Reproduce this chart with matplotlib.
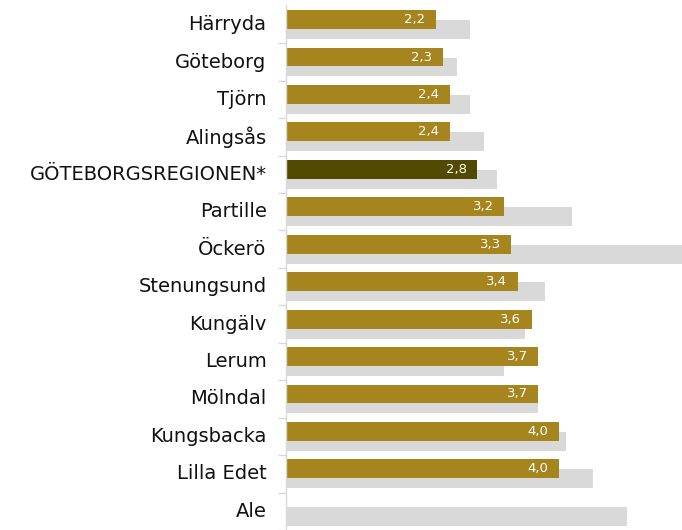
import numpy as np
import matplotlib.pyplot as plt

# Colours
GOLD = "#a6841e"
DARK_GOLD = "#524a00"
GREY = "#d9d9d9"
INK = "#111111"

municipalities = ["Härryda", "Göteborg", "Tjörn", "Alingsås", "GÖTEBORGSREGIONEN*",
                  "Partille", "Öckerö", "Stenungsund", "Kungälv", "Lerum", "Mölndal",
                  "Kungsbacka", "Lilla Edet", "Ale"]
current = [2.2, 2.3, 2.4, 2.4, 2.8, 3.2, 3.3, 3.4, 3.6, 3.7, 3.7, 4.0, 4.0, np.nan]
previous = [2.7, 2.5, 2.7, 2.9, 3.1, 4.2, 5.9, 3.8, 3.5, 3.2, 3.7, 4.1, 4.5, 5.0]
highlight = "GÖTEBORGSREGIONEN*"

plt.rcParams["font.family"] = ["DejaVu Sans"]

fig = plt.figure(figsize=(6.82, 5.30), dpi=100)
ax = fig.add_axes([286 / 682, 0, 1 - 286 / 682, 1 - 5 / 530])

y = np.arange(len(municipalities))
bar_h = 0.505
offset = 0.266

ax.barh(y + offset, previous, height=bar_h, color=GREY, zorder=1)
colors = [DARK_GOLD if m == highlight else GOLD for m in municipalities]
ax.barh(y, current, height=bar_h, color=colors, zorder=2)

for yi, v in zip(y, current):
    if np.isnan(v):
        continue
    ax.annotate(f"{v:.1f}".replace(".", ","), xy=(v, yi), xytext=(-7.5, 0),
                textcoords="offset points", ha="right", va="center",
                color="white", fontsize=9.5, zorder=3)

ax.set_xlim(0, (682 - 286) / 68.2)
ax.set_ylim(len(municipalities) - 0.43, -0.39)

ax.set_yticks(y + 0.08)
ax.set_yticklabels(municipalities, fontsize=14, color=INK)
ax.set_yticks(y + 0.633, minor=True)
ax.tick_params(axis="y", which="major", length=0, pad=14)
ax.tick_params(axis="y", which="minor", length=6, width=1, color=GREY)
ax.set_xticks([])

for spine in ("top", "right", "bottom"):
    ax.spines[spine].set_visible(False)
ax.spines["left"].set_color(GREY)
ax.spines["left"].set_linewidth(1)

fig.savefig("out.png", dpi=100, facecolor="white")
